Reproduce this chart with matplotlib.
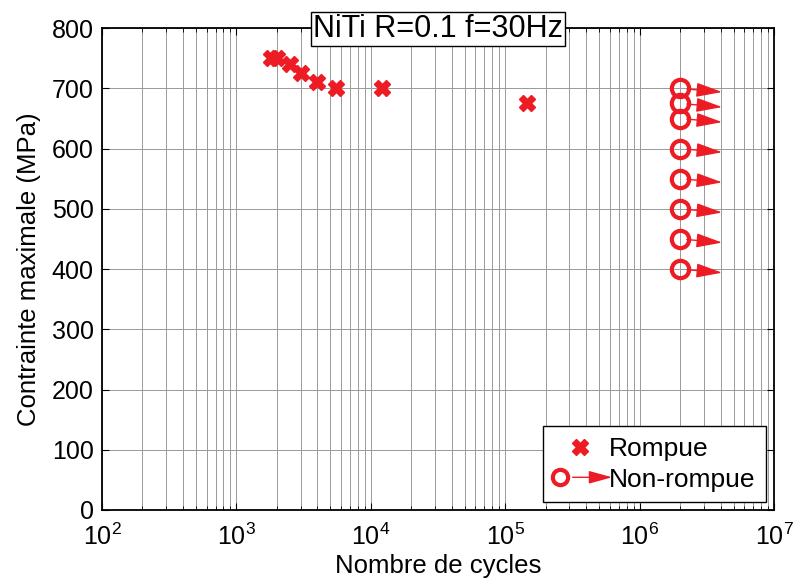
import numpy as np
import matplotlib
matplotlib.use('Agg')
import matplotlib.pyplot as plt
from matplotlib.lines import Line2D
from matplotlib.patches import FancyArrowPatch
from matplotlib.legend_handler import HandlerBase

plt.rcParams['font.family'] = ['Liberation Sans', 'DejaVu Sans']

red = '#ed1c24'

# broken specimens
rompue_cycles = [1800, 2000, 2500, 3000, 4000, 5500, 12000, 145000]
rompue_stress = [750, 750, 741, 725, 711, 700, 700, 675]

# run-outs
non_rompue_cycles = [2e6] * 8
non_rompue_stress = [700, 675, 650, 600, 550, 500, 450, 400]
arrow_end = 4.1e6

arrow_style = '-|>,head_length=0.8,head_width=0.22'


class CircleArrowHandler(HandlerBase):
    def create_artists(self, legend, orig_handle, xdescent, ydescent,
                       width, height, fontsize, trans):
        y = height / 2 - ydescent
        x0 = width * 0.12 - xdescent
        circ = Line2D([x0], [y], marker='o', ms=11, mfc='none', mec=red,
                      mew=3, ls='none', transform=trans)
        arr = FancyArrowPatch((x0 + 7, y), (width + 6 - xdescent, y),
                              arrowstyle=arrow_style, mutation_scale=18,
                              color=red, lw=1, transform=trans)
        return [circ, arr]


fig = plt.figure(figsize=(7.94, 5.87), dpi=100)
ax = fig.add_axes([0.1285, 0.1312, 0.8465, 0.8208])

ax.plot(rompue_cycles, rompue_stress, ls='none', marker='X', ms=11,
        color=red, mec=red, label='Rompue')
circ_line, = ax.plot(non_rompue_cycles, non_rompue_stress, ls='none',
                     marker='o', ms=12.5, mfc='none', mec=red, mew=3,
                     zorder=4)
for xc, yc in zip(non_rompue_cycles, non_rompue_stress):
    ax.annotate('', xy=(arrow_end, yc - 6), xytext=(xc * 1.12, yc - 1),
                arrowprops=dict(arrowstyle=arrow_style, color=red, lw=1,
                                mutation_scale=20, shrinkA=0, shrinkB=0))

ax.set_xscale('log')
ax.set_xlim(1e2, 1e7)
ax.set_ylim(0, 800)
ax.set_yticks(np.arange(0, 801, 100))
ax.set_xticks([1e2, 1e3, 1e4, 1e5, 1e6, 1e7])
ax.grid(True, which='major', color='0.6', ls='-', lw=0.7)
ax.grid(True, which='minor', axis='x', color='0.6', ls='-', lw=0.7)
ax.tick_params(which='both', direction='in', top=True, right=True,
               labelsize=18)
ax.tick_params(axis='y', pad=6)
ax.tick_params(axis='x', pad=10)
ax.tick_params(which='major', length=5)
ax.tick_params(which='minor', length=3)
for s in ax.spines.values():
    s.set_linewidth(1.3)

ax.set_xlabel('Nombre de cycles', fontsize=18.5, labelpad=3)
ax.set_ylabel('Contrainte maximale (MPa)', fontsize=18.5, labelpad=8)

ax.text(0.5, 0.998, 'NiTi R=0.1 f=30Hz', transform=ax.transAxes,
        ha='center', va='center', fontsize=22,
        bbox=dict(facecolor='white', edgecolor='black', lw=1, pad=1.5))

handles = [ax.lines[0], circ_line]
leg = ax.legend(handles, ['Rompue', 'Non-rompue'], loc='lower right',
                fontsize=19, handler_map={circ_line: CircleArrowHandler()},
                fancybox=False, edgecolor='black', framealpha=1,
                borderaxespad=0.3, handlelength=2.0, handletextpad=0.1,
                labelspacing=0.25, borderpad=0.4)
leg.get_frame().set_linewidth(1)

fig.savefig('out.png', dpi=100)
